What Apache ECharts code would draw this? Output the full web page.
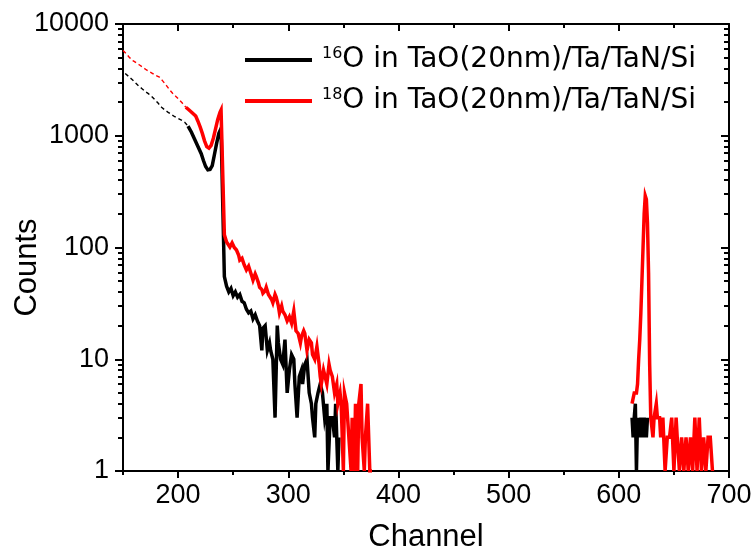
<!DOCTYPE html>
<html>
<head>
<meta charset="utf-8">
<script src="https://cdn.jsdelivr.net/npm/echarts@6/dist/echarts.min.js"></script>
<style>
  html, body { margin: 0; padding: 0; background: #ffffff; }
  #chart { width: 752px; height: 548px; }
</style>
</head>
<body>
<div id="chart"></div>
<script>
// ---- Spectrum data: counts per channel ----

// 16O, sloping background below the surface peak
const ch16Low = [152, 155, 158, 161, 164, 167, 170, 173, 176, 179, 182, 185, 188, 191, 194, 197, 200, 203, 206, 209];
const counts16Low = [3600, 3400, 3200, 3000, 2800, 2650, 2500, 2380, 2250, 2100, 1950, 1800, 1700, 1620, 1550, 1480, 1430, 1380, 1320, 1220];

// 16O, dip, surface peak and depth tail
const ch16Main = [209, 212, 215, 218, 221, 223, 225, 227, 229, 231, 233, 235, 237, 239, 240, 242, 244, 246, 248, 250,
  252, 254, 256, 258, 260, 262, 264, 266, 268, 270, 272, 274, 276, 277, 279, 281, 283, 284, 286, 288,
  290, 291, 293, 295, 297, 299, 301, 303, 305, 306, 308, 310, 312, 313, 315, 317, 319, 321, 322, 324,
  325, 327, 329, 331, 333, 335, 336, 338, 340, 342, 343, 345, 346];
const counts16Main = [1220, 1080, 930, 800, 690, 600, 530, 495, 500, 540, 680, 860, 1050, 1160, 1170, 55, 45, 40, 43, 37,
  40, 36, 38, 33, 32, 28, 26, 27, 23, 25, 22, 20, 12, 19, 20, 12, 14, 12, 10, 3,
  20, 14, 10, 9, 15, 5, 8, 11, 10, 6, 3, 7, 8, 6, 9, 10, 5, 4, 3, 2,
  4, 5, 6, 5, 3, 4, 1, 3, 3, 2, 4, 1, 2];

// 16O, high-channel group
const ch16High = [612, 613, 614, 615, 616, 617, 619, 620, 622, 623, 625, 626];
const counts16High = [3, 2, 3, 4, 1, 3, 2, 3, 2, 3, 2, 3];

// 18O, sloping background below the surface peak
const ch18Low = [150, 153, 156, 159, 162, 165, 168, 171, 174, 177, 180, 183, 186, 189, 192, 195, 198, 201, 204, 207];
const counts18Low = [5800, 5400, 5000, 4700, 4500, 4300, 4100, 3900, 3750, 3600, 3450, 3350, 3100, 2850, 2600, 2400, 2250, 2100, 1950, 1800];

// 18O, dip, surface peak and depth tail
const ch18Main = [207, 210, 213, 216, 218, 220, 222, 224, 226, 228, 230, 232, 234, 236, 238, 239, 240, 242, 244, 245,
  247, 249, 251, 253, 255, 256, 258, 260, 262, 264, 265, 267, 268, 270, 271, 273, 274, 276, 277, 279,
  280, 282, 283, 285, 286, 288, 289, 291, 292, 294, 295, 297, 299, 301, 303, 305, 307, 309, 311, 312,
  314, 315, 317, 319, 321, 322, 324, 326, 328, 329, 330, 332, 333, 335, 337, 338, 340, 342, 344, 345,
  347, 348, 350, 351, 353, 355, 357, 358, 360, 361, 363, 364, 366, 367, 369, 370, 372, 374, 376];
const counts18Main = [1800, 1700, 1600, 1500, 1350, 1200, 1050, 900, 800, 775, 820, 950, 1150, 1400, 1620, 1700, 1650, 130, 112, 116,
  101, 110, 100, 95, 85, 77, 80, 70, 63, 68, 67, 55, 51, 58, 55, 48, 44, 42, 39, 41,
  44, 38, 39, 34, 32, 38, 36, 30, 26, 30, 27, 25, 22, 24, 21, 27, 18, 17, 14, 16,
  18, 17, 12, 15, 14, 11, 10, 13, 9, 7, 6, 8, 8, 6, 9, 8, 7, 5, 6, 4,
  5, 4, 1, 5, 4, 2, 1, 3, 1, 4, 1, 4, 6, 2, 1, 2, 4, 1, 1];

// 18O, high-channel peak and noise
const ch18High = [612, 614, 616, 617, 618, 619, 620, 621, 622, 623, 624, 625, 626, 627, 628, 629, 631, 632, 634, 635,
  637, 638, 640, 642, 644, 646, 648, 650, 652, 653, 655, 657, 659, 661, 663, 665, 667, 669, 671, 673,
  675, 677, 679, 681, 683, 685];
const counts18High = [4, 5, 5, 6, 10, 15, 26, 51, 101, 200, 290, 270, 166, 59, 9, 3, 2, 3, 4, 3,
  3, 2, 3, 1, 2, 2, 3, 1, 3, 2, 1, 2, 1, 2, 1, 2, 1, 3, 1, 3,
  1, 2, 1, 2, 2, 1];

// ---- Axis ticks and labels ----
const channelTicks = [200, 300, 400, 500, 600, 700];
const channelMinorTicks = [150, 250, 350, 450, 550, 650];
const countTicks = [1, 10, 100, 1000, 10000];
const countMinorTicks = [2, 3, 4, 5, 6, 7, 8, 9, 20, 30, 40, 50, 60, 70, 80, 90,
  200, 300, 400, 500, 600, 700, 800, 900, 2000, 3000, 4000, 5000, 6000, 7000, 8000, 9000];

// ---- Legend text ----
const isotopes = ['16', '18'];
const sampleText = 'O in TaO(20nm)/Ta/TaN/Si';
const seriesNames = isotopes.map(m => m + sampleText);
const colors = ['#000000', '#ff0000'];

const FONT = "'Liberation Sans', Arial, Helvetica, sans-serif";
const LEGEND_FONT = "'DejaVu Sans', 'Liberation Sans', Arial, sans-serif";

function pairs(xs, ys) {
  return xs.map((x, i) => [x, ys[i]]);
}

function xAxisDef(position, ticks, len, inside, showLine, labels) {
  return {
    type: 'value', position: position, min: 150, max: 700,
    axisLine: { show: showLine, onZero: false, lineStyle: { color: '#000', width: 2 } },
    axisTick: { show: true, inside: inside, length: len, customValues: ticks, lineStyle: { color: '#000', width: 2 } },
    axisLabel: labels
      ? { show: true, customValues: channelTicks, margin: 11, color: '#000', fontSize: 27, fontFamily: FONT,
          formatter: v => String(Math.round(v)) }
      : { show: false },
    splitLine: { show: false }
  };
}

function yAxisDef(position, ticks, len, inside, showLine, labels) {
  return {
    type: 'log', logBase: 10, position: position, min: 1, max: 10000,
    axisLine: { show: showLine, onZero: false, lineStyle: { color: '#000', width: 2 } },
    axisTick: { show: true, inside: inside, length: len, customValues: ticks, lineStyle: { color: '#000', width: 2 } },
    axisLabel: labels
      ? { show: true, customValues: countTicks, margin: 14, color: '#000', fontSize: 27, fontFamily: FONT,
          formatter: v => String(Math.round(v)) }
      : { show: false },
    splitLine: { show: false },
    minorTick: { show: false }
  };
}

const xAxes = [
  xAxisDef('bottom', channelTicks, 7, false, true, true),
  xAxisDef('bottom', channelMinorTicks, 4, false, false, false),
  xAxisDef('top', channelTicks, 7, true, true, false),
  xAxisDef('top', channelMinorTicks, 4, true, false, false)
];
Object.assign(xAxes[0], {
  name: 'Channel', nameLocation: 'middle', nameGap: 51, nameMoveOverlap: false,
  nameTextStyle: { fontSize: 31, fontFamily: FONT, color: '#000' }
});

const yAxes = [
  yAxisDef('left', countTicks, 8, false, true, true),
  yAxisDef('left', countMinorTicks, 5, false, false, false),
  yAxisDef('right', countTicks, 8, true, true, false),
  yAxisDef('right', countMinorTicks, 5, true, false, false)
];
Object.assign(yAxes[0], {
  name: 'Counts', nameLocation: 'middle', nameGap: 80, nameRotate: 90, nameMoveOverlap: false,
  nameTextStyle: { fontSize: 31, fontFamily: FONT, color: '#000', padding: [0, 40, 0, 0] }
});

function lineSeries(name, data, color, width, dash) {
  return {
    type: 'line', name: name, data: data,
    xAxisIndex: 0, yAxisIndex: 0,
    showSymbol: false, symbol: 'none',
    lineStyle: { color: color, width: width, type: dash, join: 'miter' },
    itemStyle: { color: color },
    emphasis: { disabled: true },
    animation: false
  };
}

const series = [
  lineSeries('16O background', pairs(ch16Low, counts16Low), colors[0], 1.4, [4, 3]),
  lineSeries(seriesNames[0], pairs(ch16Main, counts16Main), colors[0], 3.5, 'solid'),
  lineSeries('16O high', pairs(ch16High, counts16High), colors[0], 3.5, 'solid'),
  lineSeries('18O background', pairs(ch18Low, counts18Low), colors[1], 1.4, [4, 3]),
  lineSeries(seriesNames[1], pairs(ch18Main, counts18Main), colors[1], 3.5, 'solid'),
  lineSeries('18O high', pairs(ch18High, counts18High), colors[1], 3.5, 'solid')
];

const chart = echarts.init(document.getElementById('chart'), null, { renderer: 'canvas' });
chart.setOption({
  backgroundColor: '#ffffff',
  animation: false,
  grid: { left: 123, right: 23, top: 24, bottom: 77, containLabel: false, outerBoundsMode: 'none' },
  xAxis: xAxes,
  yAxis: yAxes,
  legend: {
    data: seriesNames,
    orient: 'vertical',
    left: 245, top: 46,
    padding: 0,
    icon: 'rect',
    itemWidth: 67, itemHeight: 4, itemGap: 13,
    selectedMode: false,
    formatter: n => '{sup|' + n.slice(0, 2) + '}{txt|' + n.slice(2) + '}',
    textStyle: {
      color: '#000', fontFamily: LEGEND_FONT, fontSize: 28,
      rich: {
        sup: { fontSize: 16, fontFamily: LEGEND_FONT, color: '#000', verticalAlign: 'top', padding: [0, 0, 0, 5] },
        txt: { fontSize: 28, fontFamily: LEGEND_FONT, color: '#000', verticalAlign: 'middle' }
      }
    }
  },
  series: series
});
</script>
</body>
</html>
